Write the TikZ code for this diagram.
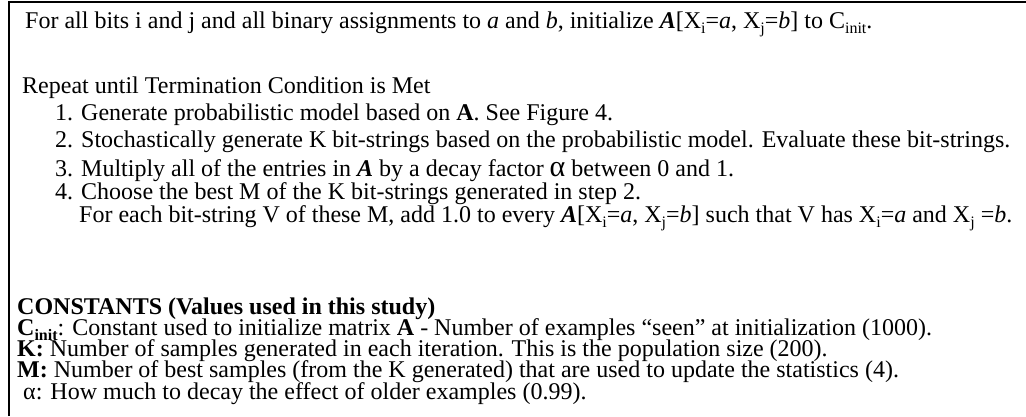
\documentclass[tikz,border=0pt]{standalone}
\usepackage{fontspec}
\setmainfont{Liberation Serif}
\newcommand\mysub[1]{\raisebox{-0.22em}{\fontsize{16bp}{16bp}\selectfont #1}}
\newcommand\bfA{\textbf{\textit{A}}}
\begin{document}
\begin{tikzpicture}[x=1bp,y=-1bp,
  txt/.style={anchor=base west,inner sep=0pt,font=\fontsize{24bp}{28bp}\selectfont},
  frame/.style={line width=2bp}]
\useasboundingbox (0,0) rectangle (1026,416);
\coordinate (fb) at (9,416);
\coordinate (ftl) at (9,2);
\coordinate (ftr) at (1026,2);
\draw[frame] (fb) -- (ftl) -- (ftr);
\node[txt] (l1) at (25,28) {For all bits i and j and all binary assignments to \textit{a} and \textit{b}, initialize \bfA[X\mysub{i}=\textit{a}, X\mysub{j}=\textit{b}] to C\mysub{init}.};
\node[txt] (l2) at (22,93) {Repeat until Termination Condition is Met};
\node[txt] (l3) at (55,120) {1. Generate probabilistic model based on \textbf{A}. See Figure 4.};
\node[txt] (l4) at (55,147) {2. Stochastically generate K bit-strings based on the probabilistic model. Evaluate these bit-strings.};
\node[txt] (l5) at (55,176) {3. Multiply all of the entries in \bfA{} by a decay factor {\fontsize{30bp}{30bp}\selectfont α} between 0 and 1.};
\node[txt] (l6) at (55,199) {4. Choose the best M of the K bit-strings generated in step 2.};
\node[txt] (l7) at (79,222) {For each bit-string V of these M, add 1.0 to every \bfA[X\mysub{i}=\textit{a}, X\mysub{j}=\textit{b}] such that V has X\mysub{i}=\textit{a} and X\mysub{j} =\textit{b}.};
\node[txt] (l8) at (17,314) {\textbf{CONSTANTS (Values used in this study)}};
\node[txt] (l9) at (17,335) {\textbf{C\mysub{init}}: Constant used to initialize matrix \textbf{A} - Number of examples “seen” at initialization (1000).};
\node[txt] (l10) at (17,356) {\textbf{K:} Number of samples generated in each iteration. This is the population size (200).};
\node[txt] (l11) at (17,377) {\textbf{M:} Number of best samples (from the K generated) that are used to update the statistics (4).};
\node[txt] (l12) at (23,399) {α: How much to decay the effect of older examples (0.99).};
\end{tikzpicture}
\end{document}
